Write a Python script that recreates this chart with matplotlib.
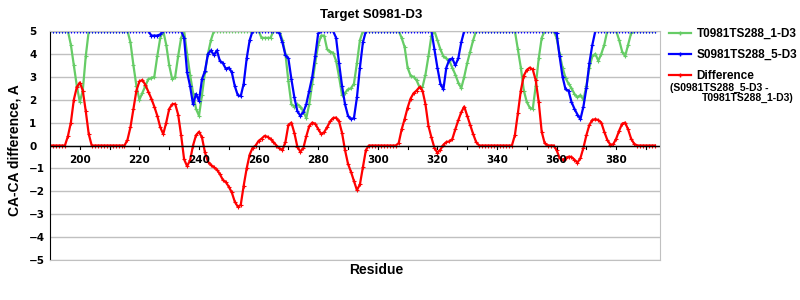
import matplotlib
matplotlib.use("Agg")
import matplotlib.pyplot as plt
import numpy as np
from matplotlib.lines import Line2D

# residue numbers and per-residue CA-CA distances (capped at 5 A)
residues = np.arange(190, 394)

t0981_model1 = [
    5, 5, 5, 5, 5, 5, 5, 4.4, 3.5, 2.6,
    1.9, 2.4, 3.9, 5, 5, 5, 5, 5, 5, 5,
    5, 5, 5, 5, 5, 5, 5, 4.5, 3.5, 2.6,
    2.0, 2.3, 2.6, 2.9, 2.95, 3.0, 3.9, 4.7, 5, 4.4,
    3.5, 2.9, 3.0, 3.9, 4.7, 5, 4.0, 3.1, 2.3, 1.6,
    1.3, 2.2, 3.2, 4.0, 4.6, 5, 5, 5, 5, 5,
    5, 5, 5, 5, 5, 5, 5, 5, 5, 5,
    5, 4.7, 4.7, 4.7, 4.7, 5, 5, 5, 4.6, 4.0,
    2.8, 1.8, 1.7, 1.8, 1.7, 1.5, 1.2, 1.8, 2.7, 3.6,
    4.4, 4.8, 4.8, 4.2, 4.1, 4.05, 3.7, 3.0, 2.2, 2.3,
    2.45, 2.5, 2.7, 3.6, 4.6, 5, 5, 5, 5, 5,
    5, 5, 5, 5, 5, 5, 5, 5, 4.7, 4.3,
    3.4, 3.05, 3.0, 2.85, 2.55, 2.55, 3.1, 3.9, 4.8, 5,
    4.6, 4.2, 3.9, 3.8, 3.7, 3.4, 3.1, 2.75, 2.5, 3.0,
    3.6, 4.1, 4.6, 5, 5, 5, 5, 5, 5, 5,
    5, 5, 5, 5, 5, 5, 5, 4.2, 3.4, 2.4,
    1.9, 1.65, 1.6, 2.6, 3.8, 4.7, 5, 5, 5, 5,
    4.7, 4.0, 3.4, 2.95, 2.7, 2.5, 2.25, 2.1, 2.2, 2.0,
    2.6, 3.4, 3.9, 4.0, 3.7, 4.0, 4.4, 5, 5, 5,
    5, 4.6, 4.1, 3.9, 4.4, 4.9, 5, 5, 5, 5,
    5, 5, 5, 5,
]

s0981_model5 = [
    5, 5, 5, 5, 5, 5, 5, 5, 5, 5,
    5, 5, 5, 5, 5, 5, 5, 5, 5, 5,
    5, 5, 5, 5, 5, 5, 5, 5, 5, 5,
    5, 5, 5, 5, 4.8, 4.8, 4.8, 4.85, 5, 5,
    5, 5, 5, 5, 5, 4.7, 3.2, 2.6, 1.8, 2.25,
    1.95, 2.9, 3.25, 4.0, 4.15, 3.95, 4.15, 3.7, 3.6, 3.35,
    3.4, 3.2, 2.6, 2.2, 2.15, 2.7, 3.8, 4.6, 5, 5,
    5, 5, 5, 5, 5, 5, 5, 4.9, 4.5, 3.95,
    3.8, 2.9, 2.1, 1.5, 1.3, 1.45, 1.8, 2.4, 3.0, 3.9,
    4.9, 5, 5, 5, 5, 5, 4.7, 3.6, 2.6, 1.8,
    1.3, 1.15, 1.2, 2.1, 3.4, 4.5, 5, 5, 5, 5,
    5, 5, 5, 5, 5, 5, 5, 5, 5, 5,
    5, 5, 5, 5, 5, 5, 5, 5, 5, 4.2,
    3.4, 2.7, 2.45, 3.4, 3.75, 3.8, 3.5, 3.8, 4.5, 5,
    5, 5, 5, 5, 5, 5, 5, 5, 5, 5,
    5, 5, 5, 5, 5, 5, 5, 5, 5, 5,
    5, 5, 5, 5, 5, 5, 5, 5, 5, 5,
    4.9, 3.9, 3.0, 2.45, 2.4, 1.9, 1.6, 1.35, 1.15, 1.7,
    2.5, 3.6, 4.4, 5, 5, 5, 5, 5, 5, 5,
    5, 5, 5, 5, 5, 5, 5, 5, 5, 5,
    5, 5, 5, 5,
]

difference = [
    0, 0, 0, 0, 0, 0, 0.4, 1.0, 2.0, 2.55,
    2.75, 2.4, 1.5, 0.5, 0, 0, 0, 0, 0, 0,
    0, 0, 0, 0, 0, 0, 0.25, 0.8, 1.6, 2.4,
    2.8, 2.86, 2.65, 2.35, 2.05, 1.7, 1.3, 0.8, 0.5, 1.0,
    1.6, 1.8, 1.82, 1.35, 0.45, -0.6, -0.9, -0.65, 0.0, 0.45,
    0.6, 0.35, -0.3, -0.7, -0.85, -0.95, -1.05, -1.25, -1.5, -1.6,
    -1.8, -2.05, -2.45, -2.67, -2.6, -1.75, -1.0, -0.4, -0.1, 0,
    0.2, 0.3, 0.42, 0.38, 0.28, 0.15, 0, -0.12, -0.2, 0.15,
    0.9, 1.0, 0.55, -0.05, -0.27, -0.12, 0.4, 0.85, 1.0, 0.95,
    0.72, 0.5, 0.58, 0.8, 1.05, 1.2, 1.22, 1.05, 0.55, -0.2,
    -0.8, -1.15, -1.55, -1.95, -1.7, -0.95, -0.2, 0, 0, 0,
    0, 0, 0, 0, 0, 0, 0, 0.1, 0.7, 1.15,
    1.65, 2.05, 2.28, 2.4, 2.55, 2.4, 1.8, 0.85, 0.35, -0.1,
    -0.32, -0.18, 0.03, 0.15, 0.18, 0.28, 0.7, 1.1, 1.45, 1.7,
    1.3, 0.9, 0.5, 0.15, 0, 0, 0, 0, 0, 0,
    0, 0, 0, 0, 0, 0, 0.45, 1.4, 2.4, 3.05,
    3.3, 3.4, 3.32, 2.85, 1.9, 0.6, 0.1, 0, 0, 0,
    -0.2, -0.55, -0.63, -0.55, -0.49, -0.5, -0.62, -0.75, -0.55, -0.1,
    0.45, 0.9, 1.12, 1.15, 1.11, 1.0, 0.6, 0.25, 0.04, 0.05,
    0.3, 0.65, 0.95, 1.0, 0.7, 0.3, 0.08, 0, 0, 0,
    0, 0, 0, 0,
]

series_names = ["T0981TS288_1-D3", "S0981TS288_5-D3", "Difference"]
series_colors = ["#66CC66", "#0000FF", "#FF0000"]
x_ticks = np.arange(200, 400, 20)
y_ticks = np.arange(-5, 6, 1)

fig = plt.figure(figsize=(8, 3), dpi=100)
ax = fig.add_axes([50 / 800, 40 / 300, 610 / 800, 229 / 300])

for vals, name, col in zip([t0981_model1, s0981_model5, difference],
                           series_names, series_colors):
    ax.plot(residues, vals, color=col, lw=1.6, marker="+", markersize=3,
            markeredgewidth=0.8, label=name)

ax.set_xlim(190, 394.7)
ax.set_ylim(-5, 5)

# horizontal grid, black zero axis
ax.set_yticks(y_ticks)
ax.grid(axis="y", color="#C0C0C0", lw=1)
ax.grid(axis="x", visible=False)
ax.axhline(0, color="black", lw=1)
ax.set_axisbelow(True)

for side in ["top", "right", "bottom"]:
    ax.spines[side].set_color("#C0C0C0")
ax.spines["left"].set_color("black")

# x ticks sit on the zero line
ax.xaxis.set_ticks_position("none")
for r in np.arange(200, 400, 10):
    ax.plot([r, r], [0, -0.17], color="black", lw=0.8, clip_on=False)
for r in x_ticks:
    ax.text(r, -0.42, str(r), ha="center", va="top", fontsize=7.5,
            fontweight="bold", family="DejaVu Sans")
ax.set_xticks([])

ax.tick_params(axis="y", length=0, pad=15, labelsize=7.5)
for lbl in ax.get_yticklabels():
    lbl.set_ha("left")
    lbl.set_fontweight("bold")

fig.text(371 / 800, 1 - 15 / 300, "Target S0981-D3", ha="center", va="center",
         fontsize=9.5, fontweight="bold", family="Liberation Sans")
fig.text(376 / 800, 1 - 270 / 300, "Residue", ha="center", va="center",
         fontsize=10, fontweight="bold", family="Liberation Sans")
fig.text(15 / 800, 1 - 150 / 300, "CA-CA difference, A", ha="center",
         va="center", rotation=90, fontsize=10, fontweight="bold",
         family="Liberation Sans")

handles = [Line2D([], [], color=c, lw=1.6, marker="+", markersize=3)
           for c in series_colors]
leg = fig.legend(handles, series_names, loc="upper left",
                 bbox_to_anchor=(669 / 800, 1 - 28 / 300), frameon=False,
                 handlelength=1.9, handletextpad=0.45, labelspacing=0.78,
                 borderpad=0, borderaxespad=0, numpoints=1,
                 prop={"family": "Liberation Sans", "weight": "bold",
                       "size": 8.5})
fig.text(670 / 800, 1 - 88 / 300, "(S0981TS288_5-D3 -", ha="left",
         va="center", fontsize=7.5, fontweight="bold", family="Liberation Sans")
fig.text(702 / 800, 1 - 98 / 300, "T0981TS288_1-D3)", ha="left",
         va="center", fontsize=7.5, fontweight="bold", family="Liberation Sans")

fig.savefig("out.png", dpi=100)
